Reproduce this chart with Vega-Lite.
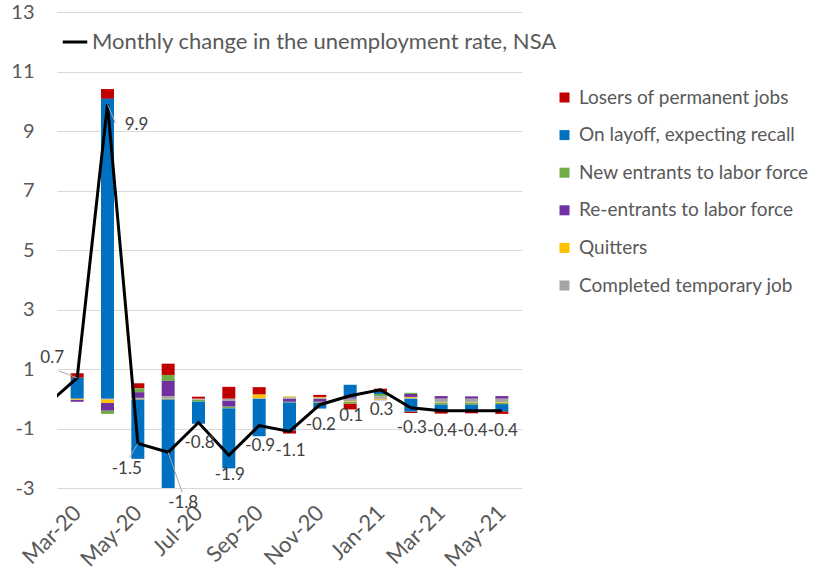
{
  "$schema": "https://vega.github.io/schema/vega-lite/v6.json",
  "width": 465,
  "height": 476,
  "autosize": "none",
  "padding": {"left": 57, "top": 12, "right": 297, "bottom": 95},
  "background": "white",
  "config": {
    "view": {"stroke": null},
    "font": "Lato"
  },
  "datasets": {
    "bars": [
      {"i": 0, "month": "Mar-20", "series": "Losers of permanent jobs", "v": 0.15},
      {"i": 0, "month": "Mar-20", "series": "On layoff, expecting recall", "v": 0.71},
      {"i": 0, "month": "Mar-20", "series": "New entrants to labor force", "v": 0.0},
      {"i": 0, "month": "Mar-20", "series": "Re-entrants to labor force", "v": -0.07},
      {"i": 0, "month": "Mar-20", "series": "Quitters", "v": -0.03},
      {"i": 0, "month": "Mar-20", "series": "Completed temporary job", "v": 0.0},
      {"i": 1, "month": "Apr-20", "series": "Losers of permanent jobs", "v": 0.33},
      {"i": 1, "month": "Apr-20", "series": "On layoff, expecting recall", "v": 10.08},
      {"i": 1, "month": "Apr-20", "series": "New entrants to labor force", "v": -0.11},
      {"i": 1, "month": "Apr-20", "series": "Re-entrants to labor force", "v": -0.26},
      {"i": 1, "month": "Apr-20", "series": "Quitters", "v": -0.12},
      {"i": 1, "month": "Apr-20", "series": "Completed temporary job", "v": -0.02},
      {"i": 2, "month": "May-20", "series": "Losers of permanent jobs", "v": 0.17},
      {"i": 2, "month": "May-20", "series": "On layoff, expecting recall", "v": -2.0},
      {"i": 2, "month": "May-20", "series": "New entrants to labor force", "v": 0.13},
      {"i": 2, "month": "May-20", "series": "Re-entrants to labor force", "v": 0.19},
      {"i": 2, "month": "May-20", "series": "Quitters", "v": -0.02},
      {"i": 2, "month": "May-20", "series": "Completed temporary job", "v": 0.03},
      {"i": 3, "month": "Jun-20", "series": "Losers of permanent jobs", "v": 0.38},
      {"i": 3, "month": "Jun-20", "series": "On layoff, expecting recall", "v": -3.0},
      {"i": 3, "month": "Jun-20", "series": "New entrants to labor force", "v": 0.2},
      {"i": 3, "month": "Jun-20", "series": "Re-entrants to labor force", "v": 0.51},
      {"i": 3, "month": "Jun-20", "series": "Quitters", "v": -0.02},
      {"i": 3, "month": "Jun-20", "series": "Completed temporary job", "v": 0.09},
      {"i": 4, "month": "Jul-20", "series": "Losers of permanent jobs", "v": 0.07},
      {"i": 4, "month": "Jul-20", "series": "On layoff, expecting recall", "v": -0.75},
      {"i": 4, "month": "Jul-20", "series": "New entrants to labor force", "v": -0.05},
      {"i": 4, "month": "Jul-20", "series": "Re-entrants to labor force", "v": 0.0},
      {"i": 4, "month": "Jul-20", "series": "Quitters", "v": -0.01},
      {"i": 4, "month": "Jul-20", "series": "Completed temporary job", "v": -0.03},
      {"i": 5, "month": "Aug-20", "series": "Losers of permanent jobs", "v": 0.4},
      {"i": 5, "month": "Aug-20", "series": "On layoff, expecting recall", "v": -2.02},
      {"i": 5, "month": "Aug-20", "series": "New entrants to labor force", "v": -0.06},
      {"i": 5, "month": "Aug-20", "series": "Re-entrants to labor force", "v": -0.2},
      {"i": 5, "month": "Aug-20", "series": "Quitters", "v": 0.0},
      {"i": 5, "month": "Aug-20", "series": "Completed temporary job", "v": -0.06},
      {"i": 6, "month": "Sep-20", "series": "Losers of permanent jobs", "v": 0.25},
      {"i": 6, "month": "Sep-20", "series": "On layoff, expecting recall", "v": -1.26},
      {"i": 6, "month": "Sep-20", "series": "New entrants to labor force", "v": 0.0},
      {"i": 6, "month": "Sep-20", "series": "Re-entrants to labor force", "v": 0.0},
      {"i": 6, "month": "Sep-20", "series": "Quitters", "v": 0.12},
      {"i": 6, "month": "Sep-20", "series": "Completed temporary job", "v": 0.02},
      {"i": 7, "month": "Oct-20", "series": "Losers of permanent jobs", "v": -0.1},
      {"i": 7, "month": "Oct-20", "series": "On layoff, expecting recall", "v": -0.95},
      {"i": 7, "month": "Oct-20", "series": "New entrants to labor force", "v": -0.02},
      {"i": 7, "month": "Oct-20", "series": "Re-entrants to labor force", "v": -0.1},
      {"i": 7, "month": "Oct-20", "series": "Quitters", "v": 0.03},
      {"i": 7, "month": "Oct-20", "series": "Completed temporary job", "v": 0.05},
      {"i": 8, "month": "Nov-20", "series": "Losers of permanent jobs", "v": 0.07},
      {"i": 8, "month": "Nov-20", "series": "On layoff, expecting recall", "v": -0.2},
      {"i": 8, "month": "Nov-20", "series": "New entrants to labor force", "v": -0.03},
      {"i": 8, "month": "Nov-20", "series": "Re-entrants to labor force", "v": -0.1},
      {"i": 8, "month": "Nov-20", "series": "Quitters", "v": 0.03},
      {"i": 8, "month": "Nov-20", "series": "Completed temporary job", "v": 0.03},
      {"i": 9, "month": "Dec-20", "series": "Losers of permanent jobs", "v": -0.2},
      {"i": 9, "month": "Dec-20", "series": "On layoff, expecting recall", "v": 0.42},
      {"i": 9, "month": "Dec-20", "series": "New entrants to labor force", "v": -0.06},
      {"i": 9, "month": "Dec-20", "series": "Re-entrants to labor force", "v": 0.05},
      {"i": 9, "month": "Dec-20", "series": "Quitters", "v": -0.02},
      {"i": 9, "month": "Dec-20", "series": "Completed temporary job", "v": -0.08},
      {"i": 10, "month": "Jan-21", "series": "Losers of permanent jobs", "v": 0.11},
      {"i": 10, "month": "Jan-21", "series": "On layoff, expecting recall", "v": 0.07},
      {"i": 10, "month": "Jan-21", "series": "New entrants to labor force", "v": 0.08},
      {"i": 10, "month": "Jan-21", "series": "Re-entrants to labor force", "v": -0.02},
      {"i": 10, "month": "Jan-21", "series": "Quitters", "v": -0.03},
      {"i": 10, "month": "Jan-21", "series": "Completed temporary job", "v": 0.08},
      {"i": 11, "month": "Feb-21", "series": "Losers of permanent jobs", "v": -0.05},
      {"i": 11, "month": "Feb-21", "series": "On layoff, expecting recall", "v": -0.43},
      {"i": 11, "month": "Feb-21", "series": "New entrants to labor force", "v": 0.04},
      {"i": 11, "month": "Feb-21", "series": "Re-entrants to labor force", "v": 0.1},
      {"i": 11, "month": "Feb-21", "series": "Quitters", "v": 0.03},
      {"i": 11, "month": "Feb-21", "series": "Completed temporary job", "v": 0.03},
      {"i": 12, "month": "Mar-21", "series": "Losers of permanent jobs", "v": -0.08},
      {"i": 12, "month": "Mar-21", "series": "On layoff, expecting recall", "v": -0.23},
      {"i": 12, "month": "Mar-21", "series": "New entrants to labor force", "v": -0.05},
      {"i": 12, "month": "Mar-21", "series": "Re-entrants to labor force", "v": 0.09},
      {"i": 12, "month": "Mar-21", "series": "Quitters", "v": -0.02},
      {"i": 12, "month": "Mar-21", "series": "Completed temporary job", "v": -0.12},
      {"i": 13, "month": "Apr-21", "series": "Losers of permanent jobs", "v": -0.08},
      {"i": 13, "month": "Apr-21", "series": "On layoff, expecting recall", "v": -0.22},
      {"i": 13, "month": "Apr-21", "series": "New entrants to labor force", "v": -0.05},
      {"i": 13, "month": "Apr-21", "series": "Re-entrants to labor force", "v": 0.08},
      {"i": 13, "month": "Apr-21", "series": "Quitters", "v": -0.02},
      {"i": 13, "month": "Apr-21", "series": "Completed temporary job", "v": -0.12},
      {"i": 14, "month": "May-21", "series": "Losers of permanent jobs", "v": -0.09},
      {"i": 14, "month": "May-21", "series": "On layoff, expecting recall", "v": -0.24},
      {"i": 14, "month": "May-21", "series": "New entrants to labor force", "v": -0.05},
      {"i": 14, "month": "May-21", "series": "Re-entrants to labor force", "v": 0.09},
      {"i": 14, "month": "May-21", "series": "Quitters", "v": -0.02},
      {"i": 14, "month": "May-21", "series": "Completed temporary job", "v": -0.11}
    ],
    "line": [
      {"i": -1, "month": "Feb-20", "v": -0.2, "label": "-0.2"},
      {"i": 0, "month": "Mar-20", "v": 0.7, "label": "0.7"},
      {"i": 1, "month": "Apr-20", "v": 9.9, "label": "9.9"},
      {"i": 2, "month": "May-20", "v": -1.5, "label": "-1.5"},
      {"i": 3, "month": "Jun-20", "v": -1.8, "label": "-1.8"},
      {"i": 4, "month": "Jul-20", "v": -0.8, "label": "-0.8"},
      {"i": 5, "month": "Aug-20", "v": -1.9, "label": "-1.9"},
      {"i": 6, "month": "Sep-20", "v": -0.9, "label": "-0.9"},
      {"i": 7, "month": "Oct-20", "v": -1.1, "label": "-1.1"},
      {"i": 8, "month": "Nov-20", "v": -0.2, "label": "-0.2"},
      {"i": 9, "month": "Dec-20", "v": 0.1, "label": "0.1"},
      {"i": 10, "month": "Jan-21", "v": 0.3, "label": "0.3"},
      {"i": 11, "month": "Feb-21", "v": -0.3, "label": "-0.3"},
      {"i": 12, "month": "Mar-21", "v": -0.4, "label": "-0.4"},
      {"i": 13, "month": "Apr-21", "v": -0.4, "label": "-0.4"},
      {"i": 14, "month": "May-21", "v": -0.4, "label": "-0.4"}
    ]
  },
  "encoding": {
    "x": {
      "field": "i",
      "type": "quantitative",
      "scale": {"domain": [-0.5, 14.5], "nice": false, "zero": false},
      "axis": {
        "title": null,
        "values": [0, 2, 4, 6, 8, 10, 12, 14],
        "labelExpr": "['Mar-20','Apr-20','May-20','Jun-20','Jul-20','Aug-20','Sep-20','Oct-20','Nov-20','Dec-20','Jan-21','Feb-21','Mar-21','Apr-21','May-21'][datum.value]",
        "labelAngle": -45,
        "labelAlign": "right",
        "labelBaseline": "middle",
        "labelFontSize": 22,
        "labelColor": "#595959",
        "labelPadding": 21,
        "labelFlush": false,
        "labelOverlap": false,
        "ticks": false,
        "domain": false,
        "grid": false
      }
    },
    "y": {
      "field": "v",
      "type": "quantitative",
      "scale": {"domain": [-3, 13], "nice": false, "zero": false},
      "axis": {
        "title": null,
        "values": [-3, -1, 1, 3, 5, 7, 9, 11, 13],
        "labelExpr": "'' + datum.value",
        "labelFontSize": 20,
        "labelColor": "#595959",
        "labelPadding": 23,
        "ticks": false,
        "domain": false,
        "grid": true,
        "gridColor": "#d9d9d9",
        "gridWidth": 1
      }
    }
  },
  "layer": [
    {
      "data": {"values": [{}]},
      "mark": {"type": "rule", "color": "#d9d9d9", "strokeWidth": 1.3},
      "encoding": {"y": {"datum": 0}, "x": null}
    },
    {
      "data": {"name": "bars"},
      "transform": [
        {"calculate": "indexof(['Completed temporary job', 'Quitters', 'Re-entrants to labor force', 'New entrants to labor force', 'On layoff, expecting recall', 'Losers of permanent jobs'], datum.series)", "as": "stackOrder"}
      ],
      "mark": {"type": "bar", "size": 13, "clip": true},
      "encoding": {
        "y": {"field": "v", "type": "quantitative", "stack": "zero"},
        "order": {"field": "stackOrder", "type": "quantitative", "sort": "ascending"},
        "color": {
          "field": "series",
          "type": "nominal",
          "scale": {
            "domain": ["Losers of permanent jobs", "On layoff, expecting recall", "New entrants to labor force", "Re-entrants to labor force", "Quitters", "Completed temporary job"],
            "range": ["#C00000", "#0070C0", "#70AD47", "#7030A0", "#FFC000", "#A5A5A5"]
          },
          "legend": {
            "title": null,
            "orient": "none",
            "legendX": 498,
            "legendY": 76,
            "symbolType": "square",
            "symbolSize": 100,
            "symbolStrokeWidth": 0,
            "labelFontSize": 19,
            "labelColor": "#595959",
            "labelOffset": 5,
            "rowPadding": 17.6,
            "labelLimit": 400
          }
        }
      }
    },
    {
      "data": {"name": "line"},
      "mark": {"type": "line", "strokeWidth": 3, "clip": true},
      "encoding": {
        "stroke": {
          "datum": "Monthly change in the unemployment rate, NSA",
          "type": "nominal",
          "scale": {"range": ["black"]},
          "legend": {
            "title": null,
            "orient": "none",
            "legendX": 4,
            "legendY": 16,
            "symbolType": "stroke",
            "symbolSize": 600,
            "symbolStrokeWidth": 3,
            "labelFontSize": 22,
            "labelColor": "#595959",
            "labelOffset": 3,
            "labelLimit": 600
          }
        }
      }
    },
    {
      "data": {"name": "line"},
      "transform": [{"filter": "datum.i == 1"}],
      "mark": {"type": "rule", "color": "#a6a6a6", "strokeWidth": 1, "x2Offset": 8, "y2Offset": 19},
      "encoding": {"x2": {"field": "i"}, "y2": {"field": "v"}}
    },
    {
      "data": {"name": "line"},
      "transform": [{"filter": "datum.i == 0"}],
      "mark": {"type": "rule", "color": "#a6a6a6", "strokeWidth": 1, "x2Offset": -18, "y2Offset": -7},
      "encoding": {"x2": {"field": "i"}, "y2": {"field": "v"}}
    },
    {
      "data": {"name": "line"},
      "transform": [{"filter": "datum.i == 2"}],
      "mark": {"type": "rule", "color": "#a6a6a6", "strokeWidth": 1, "x2Offset": -8, "y2Offset": 14},
      "encoding": {"x2": {"field": "i"}, "y2": {"field": "v"}}
    },
    {
      "data": {"name": "line"},
      "transform": [{"filter": "datum.i == 3"}],
      "mark": {"type": "rule", "color": "#a6a6a6", "strokeWidth": 1, "x2Offset": 14, "y2Offset": 40},
      "encoding": {"x2": {"field": "i"}, "y2": {"field": "v"}}
    },
    {
      "data": {"name": "line"},
      "transform": [{"filter": "datum.i >= 4"}],
      "mark": {"type": "text", "fontSize": 17, "color": "#404040", "dy": 20, "dx": 1},
      "encoding": {"text": {"field": "label"}}
    },
    {
      "data": {"name": "line"},
      "transform": [{"filter": "datum.i == 0"}],
      "mark": {"type": "text", "fontSize": 17, "color": "#404040", "dx": -25, "dy": -20},
      "encoding": {"text": {"field": "label"}}
    },
    {
      "data": {"name": "line"},
      "transform": [{"filter": "datum.i == 1"}],
      "mark": {"type": "text", "fontSize": 17, "color": "#404040", "dx": 29, "dy": 21},
      "encoding": {"text": {"field": "label"}}
    },
    {
      "data": {"name": "line"},
      "transform": [{"filter": "datum.i == 2"}],
      "mark": {"type": "text", "fontSize": 17, "color": "#404040", "dx": -11, "dy": 26},
      "encoding": {"text": {"field": "label"}}
    },
    {
      "data": {"name": "line"},
      "transform": [{"filter": "datum.i == 3"}],
      "mark": {"type": "text", "fontSize": 17, "color": "#404040", "dx": 15, "dy": 51},
      "encoding": {"text": {"field": "label"}}
    }
  ]
}
